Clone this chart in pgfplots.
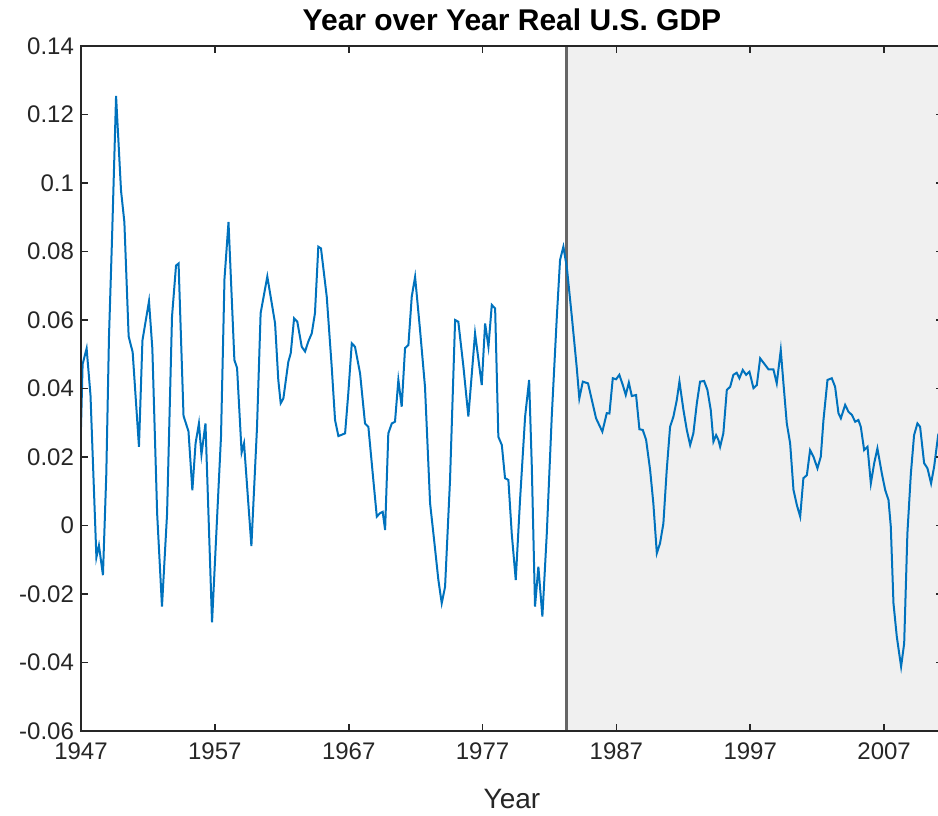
\documentclass[border=0pt]{standalone}
\usepackage{fontspec}
\setmainfont{Liberation Sans}
\usepackage{pgfplots}
\usepackage{pgfplotstable}
\pgfplotsset{compat=1.18}

\definecolor{mblue}{HTML}{0072BD}
\definecolor{axgray}{HTML}{262626}
\definecolor{shade}{HTML}{F0F0F0}
\definecolor{edgegray}{HTML}{666666}

\pgfplotstableread{
year gdp
1947.00 0.0287
1947.12 0.0471
1947.42 0.0517
1947.71 0.0380
1948.15 -0.0093
1948.34 -0.0058
1948.64 -0.0145
1948.89 0.0150
1949.09 0.0550
1949.32 0.0840
1949.62 0.1254
1949.99 0.0978
1950.24 0.0886
1950.56 0.0552
1950.86 0.0506
1951.33 0.0230
1951.59 0.0540
1952.08 0.0655
1952.33 0.0517
1952.69 0.0034
1953.05 -0.0237
1953.43 0.0034
1953.80 0.0610
1954.10 0.0759
1954.29 0.0765
1954.66 0.0320
1955.03 0.0275
1955.32 0.0103
1955.56 0.0240
1955.81 0.0298
1956.00 0.0207
1956.30 0.0298
1956.79 -0.0283
1957.46 0.0260
1957.72 0.0720
1958.02 0.0886
1958.46 0.0483
1958.66 0.0460
1959.00 0.0213
1959.18 0.0240
1959.73 -0.0060
1960.15 0.0287
1960.42 0.0620
1960.92 0.0727
1961.50 0.0590
1961.74 0.0425
1961.92 0.0357
1962.12 0.0371
1962.49 0.0478
1962.67 0.0503
1962.92 0.0605
1963.16 0.0595
1963.49 0.0522
1963.74 0.0508
1963.98 0.0537
1964.24 0.0561
1964.48 0.0620
1964.73 0.0814
1964.93 0.0809
1965.36 0.0668
1965.73 0.0464
1965.98 0.0308
1966.23 0.0261
1966.73 0.0269
1966.97 0.0386
1967.23 0.0532
1967.47 0.0522
1967.85 0.0444
1968.22 0.0298
1968.47 0.0288
1968.84 0.0133
1969.10 0.0026
1969.34 0.0036
1969.54 0.0040
1969.72 -0.0013
1969.96 0.0269
1970.22 0.0298
1970.46 0.0303
1970.71 0.0425
1970.96 0.0347
1971.21 0.0518
1971.46 0.0527
1971.71 0.0668
1971.96 0.0726
1972.33 0.0571
1972.70 0.0405
1973.08 0.0065
1973.38 -0.0042
1973.70 -0.0159
1973.95 -0.0227
1974.20 -0.0179
1974.57 0.0133
1974.95 0.0600
1975.19 0.0595
1975.57 0.0464
1975.94 0.0318
1976.44 0.0561
1976.94 0.0410
1977.19 0.0590
1977.44 0.0522
1977.69 0.0644
1977.94 0.0634
1978.18 0.0259
1978.44 0.0235
1978.68 0.0138
1978.93 0.0133
1979.18 -0.0023
1979.48 -0.0159
1979.80 0.0074
1980.18 0.0318
1980.48 0.0425
1980.68 0.0172
1980.92 -0.0237
1981.17 -0.0120
1981.47 -0.0266
1981.80 -0.0023
1982.17 0.0318
1982.55 0.0610
1982.79 0.0775
1983.04 0.0814
1983.29 0.0756
1983.67 0.0610
1984.04 0.0460
1984.23 0.0371
1984.49 0.0420
1984.88 0.0415
1985.48 0.0313
1985.95 0.0274
1986.28 0.0328
1986.48 0.0327
1986.73 0.0430
1986.98 0.0427
1987.22 0.0440
1987.48 0.0410
1987.70 0.0381
1987.93 0.0417
1988.15 0.0378
1988.47 0.0381
1988.72 0.0281
1988.97 0.0279
1989.22 0.0250
1989.52 0.0162
1989.76 0.0065
1990.02 -0.0081
1990.26 -0.0052
1990.51 0.0006
1990.76 0.0162
1991.01 0.0288
1991.26 0.0318
1991.51 0.0366
1991.71 0.0420
1992.01 0.0337
1992.26 0.0279
1992.51 0.0235
1992.75 0.0269
1993.01 0.0357
1993.25 0.0420
1993.55 0.0422
1993.80 0.0396
1994.05 0.0337
1994.25 0.0245
1994.45 0.0264
1994.62 0.0250
1994.75 0.0230
1994.99 0.0269
1995.25 0.0396
1995.50 0.0405
1995.74 0.0440
1995.99 0.0446
1996.19 0.0430
1996.44 0.0454
1996.69 0.0440
1996.94 0.0449
1997.24 0.0401
1997.49 0.0410
1997.74 0.0488
1998.11 0.0469
1998.36 0.0456
1998.73 0.0456
1998.98 0.0415
1999.28 0.0512
1999.48 0.0415
1999.73 0.0298
1999.98 0.0240
2000.23 0.0104
2000.48 0.0060
2000.73 0.0026
2000.97 0.0138
2001.23 0.0147
2001.47 0.0220
2001.72 0.0201
2002.02 0.0167
2002.27 0.0201
2002.47 0.0308
2002.77 0.0425
2003.09 0.0430
2003.34 0.0405
2003.59 0.0328
2003.77 0.0313
2004.09 0.0352
2004.34 0.0332
2004.59 0.0323
2004.84 0.0303
2005.08 0.0308
2005.26 0.0288
2005.51 0.0220
2005.76 0.0230
2006.01 0.0123
2006.26 0.0182
2006.50 0.0225
2006.83 0.0152
2007.08 0.0104
2007.33 0.0074
2007.50 -0.0003
2007.70 -0.0227
2007.95 -0.0325
2008.27 -0.0412
2008.50 -0.0344
2008.74 -0.0023
2009.00 0.0152
2009.24 0.0264
2009.49 0.0298
2009.69 0.0288
2009.99 0.0182
2010.24 0.0167
2010.51 0.0123
2010.74 0.0172
2011.04 0.0264
2011.40 0.0300
}\gdptable

\begin{document}
\begin{tikzpicture}
\useasboundingbox (-40.5pt,-42pt) rectangle (428.5pt,365.5pt);
\clip (-40.5pt,-42pt) rectangle (428.5pt,365.5pt);
\begin{pgfinterruptboundingbox}
\begin{axis}[
    at={(0,0)}, anchor=south west,
    scale only axis,
    width=431pt, height=342.5pt,
    xmin=1947, xmax=2011.4,
    ymin=-0.06, ymax=0.14,
    axis on top,
    axis line style={axgray, line width=0.8pt},
    tick style={axgray, line width=0.8pt},
    major tick length=3.5pt,
    tick align=inside,
    xtick={1947,1957,1967,1977,1987,1997,2007},
    xticklabels={1947,1957,1967,1977,1987,1997,2007},
    ytick={-0.06,-0.04,-0.02,0,0.02,0.04,0.06,0.08,0.1,0.12,0.14},
    yticklabels={-0.06,-0.04,-0.02,0,0.02,0.04,0.06,0.08,0.1,0.12,0.14},
    tick label style={font=\fontsize{12}{14}\selectfont, text=axgray},
    xticklabel style={yshift=-2.5pt},
    title={Year over Year Real U.S. GDP},
    title style={font=\fontsize{15}{18}\selectfont\bfseries, text=black, yshift=-2pt},
    xlabel={Year},
    xlabel style={font=\fontsize{14}{16}\selectfont, text=axgray, yshift=-7.5pt},
]
\draw[fill=shade, draw=edgegray, line width=1.3pt]
    (axis cs:1983.28,-0.06) rectangle (axis cs:2011.4,0.14);
\addplot[mblue, line width=1pt] table[x=year, y=gdp] {\gdptable};
\end{axis}
\end{pgfinterruptboundingbox}
\end{tikzpicture}
\end{document}
